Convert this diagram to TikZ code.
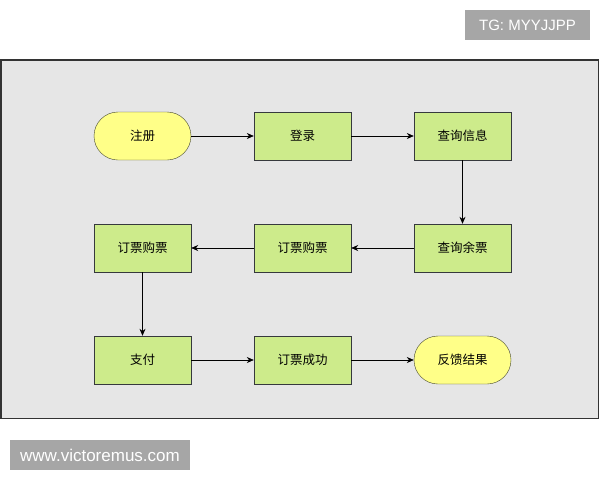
\documentclass[tikz,border=0pt]{standalone}
\usepackage{fontspec}
\setmainfont{Liberation Sans}
\newfontfamily\cjk{Noto Sans CJK SC}
\usepackage{tikz}
\usetikzlibrary{shapes,arrows,arrows.meta}
\definecolor{boxgreen}{HTML}{CDEB8B}
\definecolor{ovalyellow}{HTML}{FFFF88}
\definecolor{edgegray}{HTML}{36393D}
\definecolor{panelgray}{HTML}{E6E6E6}
\definecolor{taggray}{HTML}{A6A6A6}
\tikzstyle{block} = [rectangle, sharp corners, draw=edgegray, fill=boxgreen,
                     minimum width=97pt, minimum height=48pt, inner sep=0pt,
                     font=\cjk\fontsize{12.5}{14}\selectfont]
\tikzstyle{terminal} = [rectangle, rounded corners=24pt, draw=edgegray!80!olive, fill=ovalyellow,
                     minimum width=97pt, minimum height=48pt, inner sep=0pt,
                     font=\cjk\fontsize{12.5}{14}\selectfont]
\tikzstyle{line} = [draw, line width=0.7pt, -{Stealth[length=7pt,width=6pt]}]
\tikzstyle{tag} = [rectangle, fill=taggray, text=white, inner sep=0pt,
                     minimum height=30pt, font=\fontsize{15}{18}\selectfont]

\begin{document}
\begin{tikzpicture}[x=1pt,y=-1pt]
\useasboundingbox (0,0) rectangle (600,480);
% Panel
\draw[fill=panelgray, draw=black!80, line width=1.4pt] (1,60) rectangle (598.5,418.5);

% Row 1
\node[terminal] at (142.5,136) (reg){注册};
\node[block] at (302.5,136) (login){登录};
\node[block] at (462.5,136) (info){查询信息};
% Row 2
\node[block] at (462.5,248) (left){查询余票};
\node[block] at (302.5,248) (order){订票购票};
\node[block] at (142.5,248) (buy){订票购票};
% Row 3
\node[block] at (142.5,360) (pay){支付};
\node[block] at (302.5,360) (done){订票成功};
\node[terminal] at (462.5,360) (back){反馈结果};

% Arrows
\path[line] (reg) -- (login);
\path[line] (login) -- (info);
\path[line] (info) -- (left);
\path[line] (left) -- (order);
\path[line] (order) -- (buy);
\path[line] (buy) -- (pay);
\path[line] (pay) -- (done);
\path[line] (done) -- (back);

% Watermarks
\node[tag, minimum width=125pt] at (527.5,25) (tg){TG: MYYJJPP};
\node[tag, minimum width=180pt, font=\fontsize{17}{20}\selectfont] at (100,455) (web){www.victoremus.com};
\end{tikzpicture}
\end{document}
